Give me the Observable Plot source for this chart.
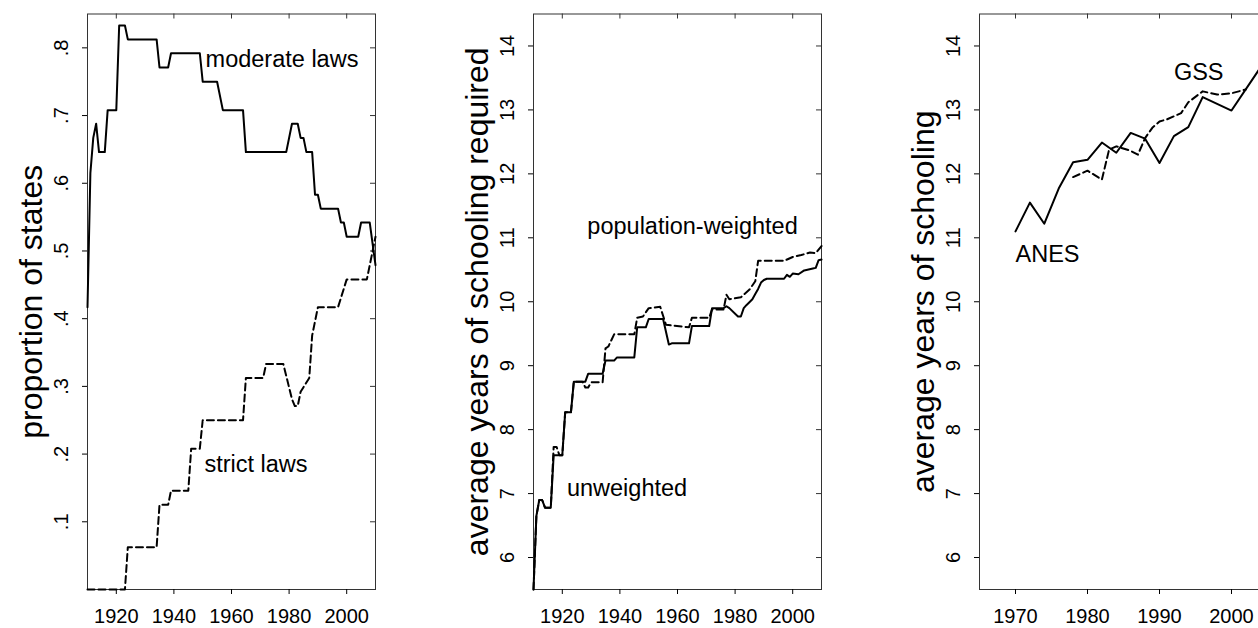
<!DOCTYPE html>
<html>
<head>
<meta charset="utf-8">
<script src="https://cdn.jsdelivr.net/npm/d3@7"></script>
<script src="https://cdn.jsdelivr.net/npm/@observablehq/plot@0.6"></script>
<style>
  html, body { margin: 0; padding: 0; background: #fff; overflow: hidden; width: 1258px; height: 628px; }
  #wrap { position: relative; width: 1258px; height: 628px; overflow: hidden; }
</style>
</head>
<body>
<div id="wrap"></div>
<script>
// ---------- Panel 1: proportion of states ----------
const moderateYears = [1910,1911,1912,1913,1914,1916,1917,1920,1921,1923,1924,1934,1935,1938,1939,1949,1950,1955,1957,1964,1965,1979,1981,1983,1984,1985,1986,1988,1989,1990,1991,1997,1998,1999,2000,2004,2005,2008,2010];
const moderateValues = [.417,.615,.667,.688,.646,.646,.708,.708,.833,.833,.8125,.8125,.771,.771,.792,.792,.75,.75,.708,.708,.646,.646,.688,.688,.667,.667,.646,.646,.583,.583,.5625,.5625,.542,.542,.521,.521,.542,.542,.479];
const strictYears = [1910,1923,1924,1934,1935,1938,1939,1945,1946,1949,1950,1964,1965,1971,1972,1978,1981,1982,1983,1984,1987,1988,1989,1990,1997,2000,2007,2008,2010];
const strictValues = [0,0,.0625,.0625,.125,.125,.146,.146,.208,.208,.25,.25,.3125,.3125,.333,.333,.281,.271,.271,.292,.3125,.375,.396,.417,.417,.458,.458,.479,.521];
const p1XTicks = [1920,1940,1960,1980,2000];
const p1YTicks = [.1,.2,.3,.4,.5,.6,.7,.8];
const p1LabelText = ["moderate laws", "strict laws"];
const p1LabelX = [1951, 1950.6];
const p1LabelY = [.783, .185];

// ---------- Panel 2: average years of schooling required ----------
const uwYears = [1910,1911,1912,1913,1914,1916,1917,1920,1921,1923,1924,1928,1929,1934,1935,1938,1939,1945,1946,1949,1950,1955,1957,1958,1964,1965,1971,1972,1976,1977,1978,1981,1982,1983,1984,1986,1987,1988,1989,1990,1991,1997,1998,1999,2000,2002,2004,2007,2008,2009,2010];
const uwValues = [5.5,6.65,6.9,6.9,6.78,6.78,7.6,7.6,8.27,8.27,8.75,8.75,8.875,8.875,9.08,9.08,9.13,9.13,9.6,9.6,9.73,9.73,9.33,9.35,9.35,9.62,9.62,9.9,9.9,9.93,9.9,9.77,9.77,9.9,9.95,10.04,10.12,10.2,10.3,10.34,10.36,10.36,10.42,10.39,10.44,10.43,10.49,10.52,10.53,10.65,10.66];
const wYears = [1910,1911,1912,1913,1914,1916,1917,1918,1919,1920,1921,1923,1924,1927,1928,1929,1930,1934,1935,1936,1938,1945,1946,1948,1950,1954,1956,1964,1965,1971,1972,1976,1977,1978,1982,1985,1987,1988,1997,2000,2003,2006,2008,2010];
const wValues = [5.5,6.65,6.9,6.9,6.78,6.78,7.73,7.73,7.6,7.6,8.27,8.27,8.75,8.75,8.66,8.66,8.74,8.74,9.27,9.3,9.49,9.49,9.75,9.77,9.9,9.92,9.64,9.6,9.75,9.75,9.88,9.88,10.11,10.04,10.07,10.19,10.32,10.64,10.64,10.7,10.73,10.77,10.76,10.87];
const p2XTicks = [1920,1940,1960,1980,2000];
const p2YTicks = [6,7,8,9,10,11,12,13,14];
const p2LabelText = ["population-weighted", "unweighted"];
const p2LabelX = [1928.7, 1921.6];
const p2LabelY = [11.17, 7.08];

// ---------- Panel 3: average years of schooling ----------
const anesYears = [1970,1972,1974,1976,1978,1980,1982,1984,1986,1988,1990,1992,1994,1996,2000,2004];
const anesValues = [11.1,11.55,11.22,11.77,12.18,12.22,12.49,12.33,12.64,12.55,12.17,12.59,12.73,13.2,12.99,13.66];
const gssYears = [1978,1980,1982,1983,1984,1986,1987,1988,1989,1990,1991,1993,1994,1996,1998,2000,2002];
const gssValues = [11.95,12.05,11.91,12.38,12.43,12.36,12.3,12.56,12.72,12.82,12.85,12.95,13.12,13.29,13.24,13.26,13.32];
const p3XTicks = [1970,1980,1990,2000];
const p3YTicks = [6,7,8,9,10,11,12,13,14];
const p3LabelText = ["GSS", "ANES"];
const p3LabelX = [1992, 1970];
const p3LabelY = [13.58, 10.74];

const zip = (xs, ys) => xs.map((x, i) => ({year: x, value: ys[i]}));
const labels = (t, xs, ys) => t.map((s, i) => ({text: s, x: xs[i], y: ys[i]}));

const wrap = document.getElementById("wrap");
const FONT = "'Liberation Sans', Arial, Helvetica, sans-serif";

function panel({left, xDomain, yDomain, xTicks, yTicks, yFmt, series, labs, title}) {
  const W = 400, H = 628, ML = 88, MR = 24, MT = 13.5, MB = 39;
  const plotW = W - ML - MR, plotH = H - MT - MB;
  const marks = [
    Plot.frame({stroke: "#333", strokeWidth: 1}),
    Plot.axisX({ticks: xTicks, tickSize: 5, tickPadding: 14, fontSize: 20, label: null, tickFormat: d => String(d)}),
    Plot.axisY({ticks: yTicks, tickSize: 5, tickPadding: 15, tickRotate: -90, fontSize: 20, label: null, tickFormat: yFmt}),
    Plot.tickX(xTicks, {x: d => d, insetBottom: plotH - 5, stroke: "#333"}),
    Plot.tickY(yTicks, {y: d => d, insetLeft: plotW - 5, stroke: "#333"}),
    ...series.map(s => Plot.line(s.data, {x: "year", y: "value", stroke: "#000", strokeWidth: 2, strokeDasharray: s.dash, strokeLinejoin: "round"})),
    Plot.text(labs, {x: "x", y: "y", text: "text", textAnchor: "start", lineAnchor: "middle", fontSize: 23.5, fill: "#000"}),
    Plot.text([title], {text: d => d, frameAnchor: "left", rotate: -90, dx: -56, textAnchor: "middle", lineAnchor: "middle", fontSize: 32, fill: "#000"})
  ];
  const p = Plot.plot({
    width: W, height: H,
    marginLeft: ML, marginRight: MR, marginTop: MT, marginBottom: MB,
    x: {domain: xDomain},
    y: {domain: yDomain},
    style: {fontFamily: FONT, background: "transparent", color: "#000", overflow: "visible"},
    marks
  });
  p.style.position = "absolute";
  p.style.left = left + "px";
  p.style.top = "0px";
  wrap.appendChild(p);
}

const fmtProp = d => d3.format(".1f")(d).replace(/^0/, "");

panel({
  left: -0.7, xDomain: [1910, 2010], yDomain: [0, 0.85],
  xTicks: p1XTicks, yTicks: p1YTicks, yFmt: fmtProp,
  series: [{data: zip(moderateYears, moderateValues)}, {data: zip(strictYears, strictValues), dash: "7,4"}],
  labs: labels(p1LabelText, p1LabelX, p1LabelY),
  title: "proportion of states"
});
panel({
  left: 445.3, xDomain: [1910, 2010], yDomain: [5.5, 14.5],
  xTicks: p2XTicks, yTicks: p2YTicks, yFmt: d => String(d),
  series: [{data: zip(uwYears, uwValues)}, {data: zip(wYears, wValues), dash: "7,4"}],
  labs: labels(p2LabelText, p2LabelX, p2LabelY),
  title: "average years of schooling required"
});
panel({
  left: 890.7, xDomain: [1965, 2005], yDomain: [5.5, 14.5],
  xTicks: p3XTicks, yTicks: p3YTicks, yFmt: d => String(d),
  series: [{data: zip(anesYears, anesValues)}, {data: zip(gssYears, gssValues), dash: "7,4"}],
  labs: labels(p3LabelText, p3LabelX, p3LabelY),
  title: "average years of schooling"
});
</script>
</body>
</html>
